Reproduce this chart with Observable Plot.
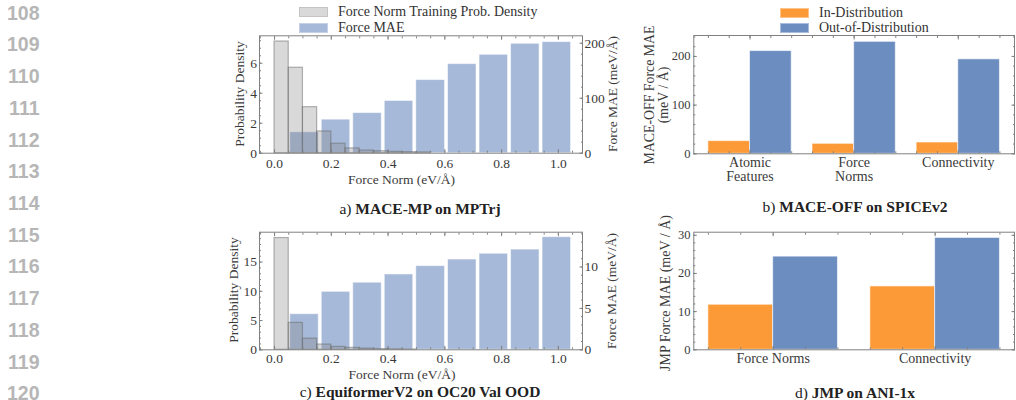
<!DOCTYPE html>
<html><head><meta charset="utf-8">
<script src="https://cdn.jsdelivr.net/npm/d3@7"></script>
<script src="https://cdn.jsdelivr.net/npm/@observablehq/plot@0.6"></script>
<style>
html,body{margin:0;padding:0;background:#fff}
body{width:1016px;height:400px;overflow:hidden;position:relative;font-family:"Liberation Serif","Times New Roman",serif;color:#333}
.panel{position:absolute}
.ln{position:absolute;left:0;width:39.5px;text-align:right;font-family:"Liberation Sans",Arial,sans-serif;font-weight:bold;font-size:19.5px;line-height:19.5px;color:#b6b6b6}
.leg{position:absolute;font-size:14px;line-height:14px;white-space:nowrap;color:#333}
.sw{position:absolute;box-sizing:border-box}
.cap{position:absolute;transform:translate(-50%,-50%);font-size:15.5px;white-space:nowrap;color:#222}
.cap b{font-weight:bold}
.alab{position:absolute;white-space:nowrap;text-align:center;color:#3a3a3a}
</style></head>
<body>
<script>
// ---------- data ----------
const lineNumbers = [108,109,110,111,112,113,114,115,116,117,118,119,120];

// a) MACE-MP on MPTrj
const densityEdgesA = [0,0.05,0.10,0.15,0.20,0.25,0.30,0.35,0.40,0.45,0.50,0.55];
const densityA = [7.45,5.70,3.07,1.45,0.63,0.32,0.18,0.13,0.09,0.07,0.05];
const maeEdges = [0.05,0.161,0.272,0.383,0.494,0.606,0.717,0.828,0.939,1.05];
const maeA = [38,61,73,95,133,162,179,199,202];
const xTicks = [0,0.2,0.4,0.6,0.8,1.0];
const leftTicksA = [0,2,4,6];
const rightTicksA = [0,100,200];

// c) EquiformerV2 on OC20 Val OOD
const densityEdgesC = [0,0.05,0.10,0.15,0.20,0.25,0.30,0.35,0.40,0.45,0.50];
const densityC = [19.1,4.6,1.9,0.9,0.5,0.33,0.2,0.12,0.08,0.05];
const maeC = [4.3,7.0,8.1,9.1,10.1,10.9,11.6,12.1,13.6];
const leftTicksC = [0,5,10,15];
const rightTicksC = [0,5,10];

// b) MACE-OFF on SPICEv2
const splitsB = ["Atomic\nFeatures","Force\nNorms","Connectivity"];
const inDistB = [26,20.5,23.2];
const oodB = [211,230,194];
const yTicksB = [0,100,200];

// d) JMP on ANI-1x
const splitsD = ["Force Norms","Connectivity"];
const inDistD = [11.8,16.6];
const oodD = [24.4,29.3];
const yTicksD = [0,10,20,30];

// ---------- style ----------
const FONT = "'Liberation Serif','Times New Roman',serif";
const FRAME = "#808080";
const TXT = "#3a3a3a";
const BLUE_LIGHT = "#a6b9d8";
const GRAY_FILL = "#808080";
const ORANGE = "#fd9a38";
const BLUE = "#6b8dbf";

function place(el, left, top){
  const d = document.createElement("div");
  d.className = "panel"; d.style.left = left+"px"; d.style.top = top+"px";
  d.appendChild(el); document.body.appendChild(d);
}
const blank = () => "";
function minorRange(a,b,s){ return d3.range(a, b + 1e-9, s); }

// ---------- histogram panels (a, c) ----------
function histPanel({height, mTop, mBottom, dens, densEdges, mae, leftTop, rightTop,
                    leftTicks, rightTicks, leftMinor, rightMinor, tickPad}){
  const k = leftTop / rightTop;
  const densRows = dens.map((v,i)=>({x1:densEdges[i], x2:densEdges[i+1], v}));
  const maeRows = mae.map((v,i)=>({x1:maeEdges[i], x2:maeEdges[i+1], v:v*k}));
  const common = {stroke: FRAME, fill: TXT, fontSize: 13.5, label: null};
  return Plot.plot({
    width: 430, height,
    marginLeft: 59, marginRight: 48, marginTop: mTop, marginBottom: mBottom,
    style: {fontFamily: FONT, fontSize: "13.5px", color: TXT, background: "transparent", overflow: "visible"},
    x: {domain: [-0.053, 1.085]},
    y: {domain: [0, leftTop]},
    marks: [
      Plot.rect(maeRows, {x1:"x1", x2:"x2", y1:0, y2:"v", fill: BLUE_LIGHT, stroke:"#ffffff", strokeOpacity:0.55, strokeWidth:1, insetLeft:1.5, insetRight:1.5}),
      Plot.rect(densRows, {x1:"x1", x2:"x2", y1:0, y2:"v", fill: GRAY_FILL, fillOpacity:0.3, stroke:"#6a6a6a", strokeOpacity:0.5, strokeWidth:1.2}),
      Plot.frame({stroke: FRAME}),
      Plot.axisX({...common, ticks: xTicks, tickSize: -3.5, tickPadding: tickPad, tickFormat: d3.format(".1f")}),
      Plot.axisX({...common, ticks: minorRange(-0.05, 1.05, 0.05), tickSize: -2, tickFormat: blank}),
      Plot.axisX({...common, anchor: "top", ticks: xTicks, tickSize: -3.5, tickFormat: blank}),
      Plot.axisX({...common, anchor: "top", ticks: minorRange(-0.05, 1.05, 0.05), tickSize: -2, tickFormat: blank}),
      Plot.axisY({...common, ticks: leftTicks, tickSize: -3.5, tickPadding: 6, tickFormat: d3.format("d")}),
      Plot.axisY({...common, ticks: leftMinor, tickSize: -2, tickFormat: blank}),
      Plot.axisY({...common, anchor: "right", ticks: rightTicks.map(t=>t*k), tickSize: -3.5, tickPadding: 5.5,
                  tickFormat: d => String(Math.round(d / k))}),
      Plot.axisY({...common, anchor: "right", ticks: rightMinor.map(t=>t*k), tickSize: -2, tickFormat: blank})
    ]
  });
}

// ---------- grouped bar panels (b, d) ----------
function barPanel({height, mTop, mBottom, splits, inDist, ood, yTop, yTicks, yMinor, xDomain, tickPadX}){
  const rows = splits.flatMap((s,i)=>[
    {x1:i-0.4, x2:i, v:inDist[i], c:ORANGE},
    {x1:i, x2:i+0.4, v:ood[i], c:BLUE}
  ]);
  const idx = splits.map((s,i)=>i);
  const xMinor = minorRange(-0.4, xDomain[1], 0.2);
  const common = {stroke: FRAME, fill: TXT, label: null};
  return Plot.plot({
    width: 386, height,
    marginLeft: 63.3, marginRight: 2, marginTop: mTop, marginBottom: mBottom,
    style: {fontFamily: FONT, fontSize: "13px", color: TXT, background: "transparent", overflow: "visible"},
    x: {domain: xDomain},
    y: {domain: [0, yTop]},
    marks: [
      Plot.rect(rows, {x1:"x1", x2:"x2", y1:0, y2:"v", fill: d=>d.c, stroke:"#ffffff", strokeOpacity:0.6, strokeWidth:1}),
      Plot.frame({stroke: FRAME}),
      Plot.axisX({...common, ticks: idx, tickSize: -3.5, tickPadding: tickPadX, fontSize: 14, lineHeight: 0.96,
                  tickFormat: i => splits[i]}),
      Plot.axisX({...common, ticks: xMinor, tickSize: -2, tickFormat: blank}),
      Plot.axisX({...common, anchor: "top", ticks: idx, tickSize: -3.5, tickFormat: blank}),
      Plot.axisX({...common, anchor: "top", ticks: xMinor, tickSize: -2, tickFormat: blank}),
      Plot.axisY({...common, ticks: yTicks, tickSize: -3.5, tickPadding: 6.8, fontSize: 12.5, tickFormat: d3.format("d")}),
      Plot.axisY({...common, ticks: yMinor, tickSize: -2, tickFormat: blank}),
      Plot.axisY({...common, anchor: "right", ticks: yTicks, tickSize: -3.5, tickFormat: blank}),
      Plot.axisY({...common, anchor: "right", ticks: yMinor, tickSize: -2, tickFormat: blank})
    ]
  });
}

// line numbers
lineNumbers.forEach((n,i)=>{
  const d = document.createElement("div");
  d.className = "ln"; d.textContent = n;
  d.style.top = (13.2 + 31.73*i - 9.6) + "px";
  document.body.appendChild(d);
});

place(histPanel({height:195, mTop:35.3, mBottom:42.3, dens:densityA, densEdges:densityEdgesA, mae:maeA,
  leftTop:7.83, rightTop:213.5, leftTicks:leftTicksA, rightTicks:rightTicksA,
  leftMinor:minorRange(0,7.5,0.5), rightMinor:minorRange(0,200,20), tickPad:9}), 200, 0);

place(histPanel({height:200, mTop:35.7, mBottom:46.7, dens:densityC, densEdges:densityEdgesC, mae:maeC,
  leftTop:20.1, rightTop:14.2, leftTicks:leftTicksC, rightTicks:rightTicksC,
  leftMinor:minorRange(0,20,1), rightMinor:minorRange(0,14,1), tickPad:7.5}), 200, 196);

place(barPanel({height:195, mTop:35, mBottom:41.7, splits:splitsB, inDist:inDistB, ood:oodB, yTop:243,
  yTicks:yTicksB, yMinor:minorRange(0,240,20), xDomain:[-0.54,2.54], tickPadX:7.5}), 630, 0);

place(barPanel({height:200, mTop:35.7, mBottom:46.7, splits:splitsD, inDist:inDistD, ood:oodD, yTop:30.8,
  yTicks:yTicksD, yMinor:minorRange(0,30,2), xDomain:[-0.49,1.49], tickPadX:7.5}), 630, 196);

// axis titles
function axisTitle(text, cx, cy, size, rotate, lineH){
  const d = document.createElement("div");
  d.className = "alab";
  d.innerHTML = text.split("\n").map(s=>s.replace(/&/g,"&amp;").replace(/</g,"&lt;")).join("<br>");
  Object.assign(d.style, {left: cx+"px", top: cy+"px", fontSize: size+"px", lineHeight: (lineH||size)+"px",
    transform: "translate(-50%,-50%)" + (rotate ? " rotate(-90deg)" : "")});
  document.body.appendChild(d);
}
axisTitle("Probability Density", 240, 94, 13.5, true);
axisTitle("Force MAE (meV/Å)", 613, 93.5, 13.5, true);
axisTitle("Force Norm (eV/Å)", 401.5, 180, 13.5, false);
axisTitle("Probability Density", 234, 290, 13.5, true);
axisTitle("Force MAE (meV/Å)", 612, 291, 13.5, true);
axisTitle("Force Norm (eV/Å)", 402, 375, 13.5, false);
axisTitle("MACE-OFF Force MAE\n(meV / Å)", 656.5, 95, 13.8, true, 14);
axisTitle("JMP Force MAE (meV / Å)", 665.7, 293, 14, true);

// legends
function legend(items){
  items.forEach(it=>{
    const s = document.createElement("div");
    s.className = "sw";
    Object.assign(s.style, {left: it.x+"px", top: it.y+"px", width: "29px", height: "10px", background: it.fill, border: "1px solid "+it.border});
    document.body.appendChild(s);
    const t = document.createElement("div");
    t.className = "leg"; t.textContent = it.label;
    Object.assign(t.style, {left: (it.x+39)+"px", top: (it.y+5-7)+"px"});
    document.body.appendChild(t);
  });
}
legend([
  {x:299, y:7, fill:"#d9d9d9", border:"#c4c4c4", label:"Force Norm Training Prob. Density"},
  {x:299, y:23, fill:BLUE_LIGHT, border:"#c3d0e5", label:"Force MAE"},
  {x:780, y:8, fill:ORANGE, border:"#ffc48c", label:"In-Distribution"},
  {x:780, y:23, fill:BLUE, border:"#a9bddb", label:"Out-of-Distribution"}
]);

// captions
[
  {x:420, y:209, pre:"a) ", title:"MACE-MP on MPTrj"},
  {x:855, y:207, pre:"b) ", title:"MACE-OFF on SPICEv2"},
  {x:420, y:392, pre:"c) ", title:"EquiformerV2 on OC20 Val OOD"},
  {x:855, y:393, pre:"d) ", title:"JMP on ANI-1x"}
].forEach(c=>{
  const d = document.createElement("div");
  d.className = "cap";
  d.style.left = c.x+"px"; d.style.top = c.y+"px";
  d.append(c.pre);
  const b = document.createElement("b"); b.textContent = c.title; d.appendChild(b);
  document.body.appendChild(d);
});
</script>
</body></html>
